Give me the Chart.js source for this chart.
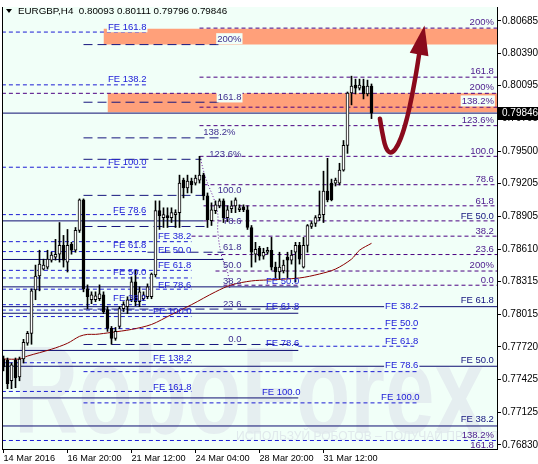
<!DOCTYPE html>
<html>
<head>
<meta charset="utf-8">
<script src="https://cdn.jsdelivr.net/npm/chart.js@4.4.1/dist/chart.umd.min.js"></script>
<style>
  html, body { margin: 0; padding: 0; background: #ffffff; }
  canvas { display: block; }
</style>
</head>
<body>
<canvas id="chart" width="538" height="464"></canvas>
<script>
// EURGBP H4 with Fibonacci expansions

const symbolTitle = 'EURGBP,H4  0.80093 0.80111 0.79796 0.79846';
const xTickIndex = [0, 16, 32, 48, 64, 80];
const xTickLabels = ['14 Mar 2016', '16 Mar 20:00', '21 Mar 12:00', '24 Mar 04:00', '28 Mar 20:00', '31 Mar 12:00'];
const yTickValues = [0.80685, 0.80390, 0.80095, 0.79795, 0.79500, 0.79205, 0.78905, 0.78610, 0.78315, 0.78015, 0.77720, 0.77425, 0.77125, 0.76830];
const bidPrice = 0.79846;

const opens = [0.77610, 0.77601, 0.77412, 0.77601, 0.77448, 0.77610, 0.77753, 0.77843, 0.78239, 0.78365,
  0.78428, 0.78446, 0.78509, 0.78536, 0.78563, 0.78644, 0.78491, 0.78653, 0.78599, 0.78779,
  0.79057, 0.78248, 0.78149, 0.78149, 0.78158, 0.78194, 0.78059, 0.77888, 0.77798, 0.77906,
  0.78068, 0.78086, 0.78149, 0.78311, 0.78131, 0.78158, 0.78176, 0.78176, 0.78374, 0.78959,
  0.78896, 0.78914, 0.78896, 0.78923, 0.78941, 0.79237, 0.79165, 0.79228, 0.79210, 0.79237,
  0.79282, 0.79093, 0.78869, 0.78959, 0.79003, 0.79048, 0.78896, 0.78976, 0.79003, 0.78967,
  0.78994, 0.78967, 0.78806, 0.78563, 0.78617, 0.78545, 0.78581, 0.78599, 0.78446, 0.78401,
  0.78410, 0.78536, 0.78509, 0.78581, 0.78644, 0.78446, 0.78644, 0.78815, 0.78842, 0.78896,
  0.78923, 0.79138, 0.79210, 0.79210, 0.79210, 0.79327, 0.79552, 0.80029, 0.80101, 0.80074,
  0.80092, 0.80020, 0.80093];
const highs = [0.77637, 0.77619, 0.77574, 0.77619, 0.77628, 0.77789, 0.77861, 0.78248, 0.78464, 0.78599,
  0.78518, 0.78599, 0.78581, 0.78698, 0.78851, 0.78734, 0.78788, 0.78671, 0.78806, 0.79066,
  0.79066, 0.78284, 0.78221, 0.78221, 0.78284, 0.78221, 0.78086, 0.77906, 0.77897, 0.78086,
  0.78131, 0.78176, 0.78356, 0.78419, 0.78266, 0.78221, 0.78293, 0.78392, 0.79048, 0.79048,
  0.78985, 0.78985, 0.78985, 0.78967, 0.79282, 0.79255, 0.79282, 0.79255, 0.79282, 0.79453,
  0.79300, 0.79120, 0.79030, 0.79048, 0.79066, 0.79066, 0.79003, 0.79048, 0.79075, 0.79012,
  0.79012, 0.79003, 0.78824, 0.78671, 0.78635, 0.78617, 0.78626, 0.78716, 0.78491, 0.78581,
  0.78509, 0.78581, 0.78599, 0.78671, 0.78671, 0.78716, 0.78833, 0.78860, 0.78914, 0.79138,
  0.79318, 0.79435, 0.79246, 0.79255, 0.79390, 0.79597, 0.80038, 0.80182, 0.80155, 0.80155,
  0.80155, 0.80146, 0.80111];
const lows = [0.77502, 0.77340, 0.77340, 0.77349, 0.77412, 0.77574, 0.77735, 0.77744, 0.78149, 0.78230,
  0.78419, 0.78428, 0.78491, 0.78509, 0.78491, 0.78446, 0.78401, 0.78563, 0.78581, 0.78761,
  0.78221, 0.78068, 0.78113, 0.78131, 0.78140, 0.78023, 0.77861, 0.77744, 0.77780, 0.77888,
  0.78041, 0.78023, 0.78131, 0.78095, 0.78086, 0.78140, 0.78158, 0.78158, 0.78356, 0.78788,
  0.78806, 0.78806, 0.78851, 0.78806, 0.78806, 0.79075, 0.79120, 0.79120, 0.79192, 0.79210,
  0.79057, 0.78806, 0.78824, 0.78932, 0.78985, 0.78851, 0.78860, 0.78941, 0.78941, 0.78950,
  0.78950, 0.78788, 0.78446, 0.78491, 0.78509, 0.78518, 0.78563, 0.78419, 0.78347, 0.78338,
  0.78392, 0.78347, 0.78473, 0.78311, 0.78473, 0.78437, 0.78581, 0.78797, 0.78815, 0.78869,
  0.78851, 0.79039, 0.79048, 0.79183, 0.79192, 0.79318, 0.79480, 0.79921, 0.80020, 0.80056,
  0.79975, 0.80002, 0.79796];
const closes = [0.77538, 0.77385, 0.77556, 0.77439, 0.77610, 0.77762, 0.77843, 0.78230, 0.78365, 0.78473,
  0.78464, 0.78518, 0.78554, 0.78563, 0.78644, 0.78509, 0.78644, 0.78599, 0.78779, 0.79057,
  0.78248, 0.78176, 0.78194, 0.78185, 0.78203, 0.78041, 0.77888, 0.77798, 0.77861, 0.78068,
  0.78104, 0.78149, 0.78311, 0.78131, 0.78221, 0.78194, 0.78266, 0.78383, 0.78959, 0.78914,
  0.78923, 0.78896, 0.78941, 0.78941, 0.79210, 0.79165, 0.79228, 0.79192, 0.79255, 0.79282,
  0.79093, 0.78878, 0.78967, 0.79012, 0.79048, 0.78896, 0.78967, 0.79003, 0.79057, 0.78985,
  0.78967, 0.78806, 0.78581, 0.78608, 0.78545, 0.78581, 0.78599, 0.78446, 0.78401, 0.78446,
  0.78464, 0.78509, 0.78554, 0.78644, 0.78518, 0.78644, 0.78824, 0.78842, 0.78896, 0.78923,
  0.79138, 0.79057, 0.79057, 0.79237, 0.79327, 0.79552, 0.80029, 0.80092, 0.80074, 0.80101,
  0.80020, 0.80092, 0.79846];

// moving average, read at a few bars
const maX = [0, 4, 6, 12, 16, 19, 21, 23, 27, 32, 37, 42, 47, 53, 57, 62, 66, 74, 79, 83, 87, 89, 92];
const maY = [0.77610, 0.77610, 0.77637, 0.77699, 0.77753, 0.77816, 0.77834, 0.77834, 0.77852, 0.77879, 0.77924, 0.78014,
  0.78104, 0.78221, 0.78284, 0.78320, 0.78329, 0.78347, 0.78383, 0.78428, 0.78518, 0.78599, 0.78662];

// Fibonacci level lines: start bar, end bar, price, kind
const fibX0 = [49, -0.4, 20, 49, -0.4, -0.4, 20, 49, -0.4, 49, 20, 49, 20, -0.4, 50, 20, 50, -0.4, -0.4, 50,
  20, 47, -0.4, -0.4, 36, 51, -0.4, -0.4, 53, -0.4, 55, -0.4, -0.4, -0.4, -0.4, 20, -0.4, -0.4, -0.4, 20,
  20, 73.7, -0.4, -0.4, -0.4, 20, -0.4, -0.4, 20, -0.4, -0.4];
const fibX1 = [123.4, 36, 54.2, 123.4, 36, 123.4, 54.2, 123.4, 123.4, 123.4, 54.2, 123.4, 49.5, 36, 123.4, 50, 123.4, 36, 50, 123.4,
  50.7, 123.4, 47, 36, 55, 123.4, 55, 47, 123.4, 47, 123.4, 73.7, 47, 36, 123.4, 73.7, 47, 73.7, 47, 103.4,
  73.7, 103.4, 73.7, 47, 123.4, 103.4, 47, 73.7, 103.4, 123.4, 123.4];
const fibPrice = [0.80619, 0.80583, 0.80469, 0.80173, 0.80103, 0.80026, 0.79945, 0.79900, 0.79846, 0.79732,
  0.79621, 0.79453, 0.79426, 0.79354, 0.79195, 0.79098, 0.79003, 0.78923, 0.78866, 0.78866,
  0.78815, 0.78727, 0.78677, 0.78587, 0.78581, 0.78560, 0.78515, 0.78416, 0.78410, 0.78347,
  0.78281, 0.78266, 0.78245, 0.78104, 0.78086, 0.78064, 0.78055, 0.78026, 0.77996, 0.77886,
  0.77742, 0.77726, 0.77688, 0.77576, 0.77544, 0.77495, 0.77315, 0.77256, 0.77211, 0.77001, 0.76869];
const fibKind = ['P', 'B', 'L', 'P', 'B', 'P', 'L', 'P', 'N', 'P', 'L', 'P', 'L', 'B', 'P', 'L', 'P', 'B', 'N', 'P',
  'L', 'P', 'B', 'B', 'L', 'P', 'N', 'B', 'P', 'B', 'P', 'N', 'B', 'B', 'N', 'L', 'B', 'N', 'B', 'B',
  'L', 'B', 'N', 'B', 'N', 'B', 'B', 'N', 'B', 'N', 'B'];

// level captions: bar, price, text, kind, anchor side, boxed
const lblX = [122.6, 122.6, 122.6, 122.6, 122.6, 122.6, 122.6, 122.6, 122.6, 122.6, 122.6, 122.6, 122.6, 122.6, 122.6, 122.6, 122.6, 122.6,
  26.1, 26.1, 26.1, 27.4, 27.4, 27.4, 27.4,
  38.6, 38.6, 38.6, 38.6, 37.4, 37.4, 37.4,
  59.5, 59.5, 58, 59.5, 59.5, 59.5, 59.5, 59.5, 59.5, 59.5, 59.5,
  65.6, 65.6, 65.6, 64.6,
  95.4, 95.4, 95.4, 95.4, 94.4];
const lblPrice = [0.80676, 0.80226, 0.80083, 0.79957, 0.79786, 0.79507, 0.79246, 0.79048, 0.78914, 0.78779, 0.78608, 0.78464, 0.78329, 0.78149, 0.77601, 0.77061, 0.76917, 0.76827,
  0.80631, 0.80155, 0.79399, 0.78967, 0.78644, 0.78401, 0.78167,
  0.78727, 0.78605, 0.78466, 0.78287, 0.78050, 0.77621, 0.77360,
  0.80523, 0.79993, 0.79678, 0.79476, 0.79147, 0.78869, 0.78626, 0.78466, 0.78317, 0.78110, 0.77796,
  0.78317, 0.78095, 0.77756, 0.77313,
  0.78095, 0.77936, 0.77778, 0.77556, 0.77262];
const lblText = ['200%', '161.8', '200%', '138.2%', '123.6%', '100.0', '78.6', '61.8', 'FE 50.0', '38.2', '23.6', '200%', '0.0', 'FE 61.8', 'FE 50.0', 'FE 38.2', '138.2%', '161.8',
  'FE 161.8', 'FE 138.2', 'FE 100.0', 'FE 78.6', 'FE 61.8', 'FE 50.0', 'FE 38.2',
  'FE 38.2', 'EF 50.0', 'FE 61.8', 'EF 78.6', 'FE 100.0', 'FE 138.2', 'FE 161.8',
  '200%', '161.8', '138.2%', '123.6%', '100.0', '78.6', '61.8', '50.0', '38.2', '23.6', '0.0',
  'FE 50.0', 'FE 61.8', 'FE 78.6', 'FE 100.0',
  'FE 38.2', 'FE 50.0', 'FE 61.8', 'FE 78.6', 'FE 100.0'];
const lblKind = ['P', 'P', 'P', 'P', 'P', 'P', 'P', 'P', 'N', 'P', 'P', 'P', 'P', 'N', 'N', 'N', 'P', 'P',
  'B', 'B', 'B', 'B', 'B', 'B', 'B',
  'B', 'B', 'B', 'B', 'B', 'B', 'B',
  'L', 'L', 'L', 'L', 'L', 'L', 'L', 'L', 'L', 'L', 'L',
  'B', 'B', 'B', 'B',
  'B', 'B', 'B', 'B', 'B'];
const lblSide = ['r', 'r', 'r', 'r', 'r', 'r', 'r', 'r', 'r', 'r', 'r', 'r', 'r', 'r', 'r', 'r', 'r', 'r',
  'l', 'l', 'l', 'l', 'l', 'l', 'l',
  'l', 'l', 'l', 'l', 'l', 'l', 'l',
  'r', 'r', 'r', 'r', 'r', 'r', 'r', 'r', 'r', 'r', 'r',
  'l', 'l', 'l', 'l',
  'l', 'l', 'l', 'l', 'l'];
const lblBoxed = [0, 0, 0, 1, 0, 0, 0, 0, 0, 0, 0, 0, 0, 0, 0, 0, 0, 0,
  1, 0, 0, 0, 0, 0, 0,
  0, 0, 0, 0, 0, 0, 0,
  1, 1, 0, 0, 0, 0, 0, 0, 0, 0, 0,
  0, 0, 0, 0,
  1, 0, 0, 1, 0];

// target zones: start bar, end bar, top, bottom
const zoneX0 = [25, 26];
const zoneX1 = [123.4, 123.4];
const zoneTop = [0.80613, 0.80026];
const zoneBottom = [0.80469, 0.79855];

// dotted trend of the right-hand grid
const trendX = [49.1, 50.4, 53.4, 53.6, 54.6, 55.9, 56.6];
const trendY = [0.79453, 0.79273, 0.78967, 0.78761, 0.78536, 0.78419, 0.78248];

// forecast arrow
const arrowX = [94.1, 94.9, 95.6, 96.6, 97.9, 99.4, 100.9, 102.1, 103.1, 103.9];
const arrowY = [0.79795, 0.79633, 0.79534, 0.79489, 0.79516, 0.79624, 0.79804, 0.80002, 0.80199, 0.80379];
const arrowTipX = 105.25;
const arrowTipY = 0.80643;

const plotBg = '#f1fff8';
const fontFamily = '"Liberation Sans", Arial, sans-serif';
const kinds = {
  B: { color: '#1c1cd4', text: '#2020d8', dash: [4, 3] },
  P: { color: '#4b0082', text: '#4b1a8c', dash: [4, 3] },
  L: { color: '#16167e', text: '#3f2f90', dash: [9, 5] },
  N: { color: '#0e0e72', text: '#14147e', dash: [] }
};

function pts(xs, ys) {
  return xs.map((x, i) => ({ x: x, y: ys[i] }));
}

const idx = opens.map((_, i) => i);

const datasets = [];

zoneTop.forEach((top, i) => {
  datasets.push({
    type: 'line',
    data: [{ x: zoneX0[i], y: top }, { x: zoneX1[i], y: top }],
    borderWidth: 0,
    pointRadius: 0,
    backgroundColor: '#ffa07a',
    fill: { value: zoneBottom[i] },
    order: 10
  });
});

fibPrice.forEach((p, i) => {
  const k = kinds[fibKind[i]];
  datasets.push({
    type: 'line',
    data: [{ x: fibX0[i], y: p }, { x: fibX1[i], y: p }],
    borderColor: k.color,
    borderDash: k.dash,
    borderWidth: 1,
    pointRadius: 0,
    fill: false,
    order: 6
  });
});

datasets.push({
  type: 'line',
  data: pts(trendX, trendY),
  borderColor: '#6a1a9a',
  borderDash: [1, 2],
  borderWidth: 1,
  pointRadius: 0,
  tension: 0.4,
  fill: false,
  order: 6
});

datasets.push({
  type: 'line',
  data: pts(maX, maY),
  borderColor: '#8b0000',
  borderWidth: 1,
  pointRadius: 0,
  tension: 0.3,
  fill: false,
  order: 5
});

datasets.push({
  type: 'bar',
  data: idx.map(i => ({ x: i, y: [lows[i], highs[i]] })),
  backgroundColor: '#000000',
  borderWidth: 0,
  barThickness: 1,
  grouped: false,
  order: 3
});

datasets.push({
  type: 'bar',
  data: idx.map(i => ({ x: i, y: [opens[i], closes[i]] })),
  backgroundColor: idx.map(i => closes[i] > opens[i] ? '#ffffff' : '#000000'),
  borderColor: '#000000',
  borderWidth: 1,
  borderSkipped: false,
  barThickness: 3,
  minBarLength: 1,
  grouped: false,
  order: 2
});

datasets.push({
  type: 'line',
  data: pts(arrowX, arrowY),
  borderColor: '#8a0a1c',
  borderWidth: 4.5,
  borderCapStyle: 'round',
  pointRadius: 0,
  tension: 0.4,
  fill: false,
  order: 1
});

const mt4Plugin = {
  id: 'mt4',
  beforeDraw(chart) {
    const { ctx, chartArea: a } = chart;
    ctx.save();
    ctx.fillStyle = '#ffffff';
    ctx.fillRect(0, 0, chart.width, chart.height);
    ctx.fillStyle = plotBg;
    ctx.fillRect(a.left, a.top, a.right - a.left, a.bottom - a.top);
    ctx.restore();
  },
  beforeDatasetsDraw(chart) {
    const { ctx, chartArea: a } = chart;
    ctx.save();
    ctx.beginPath();
    ctx.rect(a.left, a.top, a.right - a.left, a.bottom - a.top);
    ctx.clip();
    // watermark
    ctx.font = 'bold 124px ' + fontFamily;
    const w = ctx.measureText('RoboForex').width;
    ctx.translate(14, 433);
    ctx.scale(470 / w, 1);
    ctx.fillStyle = '#e5eef0';
    ctx.textBaseline = 'alphabetic';
    ctx.fillText('RoboForex', 0, 0);
    ctx.setTransform(1, 0, 0, 1, 0, 0);
    ctx.font = '12px ' + fontFamily;
    ctx.fillStyle = '#e0e9ec';
    ctx.fillText('ИСПОЛЬЗУЙ РОБОТОВ – ПОЛУЧАЙ ПРИБЫЛЬ', 236, 440);
    ctx.restore();
  },
  afterDatasetsDraw(chart) {
    const { ctx, chartArea: a, scales: { x, y } } = chart;
    ctx.save();
    ctx.beginPath();
    ctx.rect(a.left, a.top, a.right - a.left, a.bottom - a.top);
    ctx.clip();

    // arrow head
    const bx = x.getPixelForValue(arrowX[arrowX.length - 1]);
    const by = y.getPixelForValue(arrowY[arrowY.length - 1]);
    const tx = x.getPixelForValue(arrowTipX);
    const ty = y.getPixelForValue(arrowTipY);
    const ang = Math.atan2(ty - by, tx - bx);
    const half = 9.5;
    ctx.fillStyle = '#8a0a1c';
    ctx.beginPath();
    ctx.moveTo(tx, ty);
    ctx.lineTo(bx + Math.cos(ang + Math.PI / 2) * half, by + Math.sin(ang + Math.PI / 2) * half);
    ctx.lineTo(bx - Math.cos(ang + Math.PI / 2) * half, by - Math.sin(ang + Math.PI / 2) * half);
    ctx.closePath();
    ctx.fill();

    // level captions
    ctx.font = '9.5px ' + fontFamily;
    ctx.textBaseline = 'middle';
    ctx.textAlign = 'left';
    lblText.forEach((t, i) => {
      const px = x.getPixelForValue(lblX[i]);
      const py = y.getPixelForValue(lblPrice[i]);
      const tw = ctx.measureText(t).width;
      const left = lblSide[i] === 'r' ? px - tw : px;
      if (lblBoxed[i]) {
        ctx.fillStyle = plotBg;
        ctx.fillRect(left - 1, py - 5.5, tw + 2, 11);
      }
      ctx.fillStyle = kinds[lblKind[i]].text;
      ctx.fillText(t, left, py + 0.5);
    });

    // title
    ctx.fillStyle = '#000000';
    ctx.beginPath();
    ctx.moveTo(a.left + 4, 9);
    ctx.lineTo(a.left + 10, 9);
    ctx.lineTo(a.left + 7, 13);
    ctx.closePath();
    ctx.fill();
    ctx.font = '9.8px ' + fontFamily;
    ctx.fillText(symbolTitle, a.left + 16, 11);
    ctx.restore();
  },
  afterDraw(chart) {
    const { ctx, chartArea: a, scales: { y } } = chart;
    ctx.save();
    ctx.strokeStyle = '#000000';
    ctx.lineWidth = 1;
    ctx.beginPath();
    ctx.moveTo(a.left + 0.5, a.top);
    ctx.lineTo(a.left + 0.5, a.bottom);
    ctx.stroke();
    // bid price box
    const py = y.getPixelForValue(bidPrice);
    ctx.fillStyle = '#000000';
    ctx.fillRect(a.right, Math.round(py) - 6, chart.width - a.right, 13);
    ctx.fillStyle = '#ffffff';
    ctx.font = '10px ' + fontFamily;
    ctx.textBaseline = 'middle';
    ctx.textAlign = 'left';
    ctx.fillText(bidPrice.toFixed(5), a.right + 5, Math.round(py) + 0.5);
    ctx.restore();
  }
};

new Chart(document.getElementById('chart'), {
  type: 'bar',
  data: { datasets: datasets },
  plugins: [mt4Plugin],
  options: {
    responsive: false,
    devicePixelRatio: 1,
    animation: false,
    events: [],
    layout: { padding: { left: 2, top: 2, right: 0, bottom: 0 } },
    plugins: { legend: { display: false }, tooltip: { enabled: false } },
    scales: {
      x: {
        type: 'linear',
        position: 'bottom',
        min: -0.375,
        max: 123.375,
        offset: false,
        afterBuildTicks: s => { s.ticks = xTickIndex.map(v => ({ value: v })); },
        afterFit: s => { s.height = 15; },
        ticks: {
          autoSkip: false,
          maxRotation: 0,
          align: 'start',
          padding: 0,
          color: '#000000',
          font: { family: fontFamily, size: 9.2 },
          callback: (v, i) => xTickLabels[i]
        },
        grid: { offset: false, drawOnChartArea: false, tickLength: 4, tickColor: '#000000' },
        border: { color: '#000000' }
      },
      y: {
        type: 'linear',
        position: 'right',
        min: 0.767916,
        max: 0.80811,
        afterBuildTicks: s => { s.ticks = yTickValues.map(v => ({ value: v })); },
        afterFit: s => { s.width = 41; },
        ticks: {
          autoSkip: false,
          padding: 1,
          color: '#000000',
          font: { family: fontFamily, size: 10 },
          callback: v => v.toFixed(5)
        },
        grid: { drawOnChartArea: false, tickLength: 4, tickColor: '#000000' },
        border: { color: '#000000' }
      }
    }
  }
});
</script>
</body>
</html>
